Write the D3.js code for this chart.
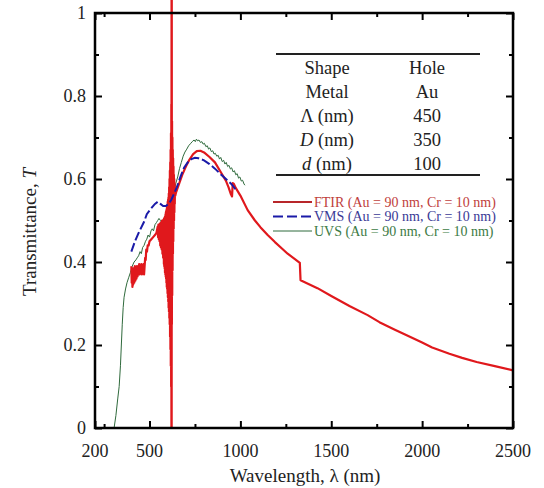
<!DOCTYPE html>
<html>
<head>
<meta charset="utf-8">
<script src="https://cdn.jsdelivr.net/npm/d3@7"></script>
<style>
  body { margin: 0; background: #fff; }
  svg text { font-family: "Liberation Serif", "Times New Roman", serif; }
</style>
</head>
<body>
<div id="chart"></div>
<script>
// FTIR spectrum [wavelength nm, T]
const ftir = [
  [400,0.39],[402,0.35],[404,0.385],[406,0.34],[408,0.38],[410,0.345],[413,0.385],[416,0.35],
  [419,0.39],[422,0.355],[425,0.385],[428,0.36],[431,0.39],[434,0.365],[437,0.39],[440,0.37],
  [443,0.395],[446,0.37],[449,0.39],[452,0.375],[455,0.395],[458,0.37],[461,0.39],[464,0.375],
  [467,0.395],[470,0.37],[473,0.39],[476,0.41],[479,0.405],[482,0.43],[486,0.425],[490,0.44],
  [495,0.44],[500,0.45],[510,0.455],[520,0.46],[530,0.465],[538,0.47],
  [545,0.485],[547,0.46],[549,0.49],[551,0.455],[553,0.49],[555,0.45],[557,0.492],[559,0.44],
  [561,0.495],[563,0.435],[565,0.495],[567,0.43],[569,0.5],[571,0.42],[573,0.5],[575,0.41],
  [577,0.502],[579,0.395],
  [580,0.505],[581,0.39],[582,0.505],[583,0.385],[584,0.508],[585,0.375],[586,0.51],[587,0.37],
  [588,0.515],[589,0.365],[590,0.52],[591,0.36],[592,0.523],[593,0.35],[594,0.527],[595,0.34],
  [596,0.532],[597,0.335],[598,0.537],[599,0.325],[600,0.545],[601,0.315],[602,0.55],[603,0.305],
  [604,0.555],[605,0.29],[606,0.565],[607,0.28],[608,0.58],[609,0.265],[610,0.6],[611,0.25],
  [612,0.62],[613,0.22],[614,0.64],[615,0.19],[616,0.67],[617,0.15],[618,0.71],[619,0.1],
  [620,0.78],[620.6,0],[621.2,1.04],[621.8,0],[622.4,1.04],[623,0.25],[624,0.74],[625,0.32],
  [626,0.7],[627,0.38],[628,0.67],[629,0.42],[630,0.65],[631,0.45],[632,0.63],[633,0.48],
  [634,0.61],[635,0.5],[636,0.6],[637,0.52],[638,0.59],[639,0.54],[640,0.58],[642,0.56],
  [646,0.568],[660,0.585],[680,0.61],[700,0.63],[720,0.647],[740,0.66],[760,0.667],[780,0.668],
  [800,0.664],[830,0.653],[860,0.64],[890,0.618],[920,0.596],[935,0.58],[948,0.563],[954,0.558],
  [958,0.59],[964,0.588],[975,0.578],[1000,0.56],[1040,0.525],[1080,0.5],[1110,0.484],
  [1150,0.465],[1190,0.448],[1230,0.432],[1260,0.42],[1300,0.407],[1327,0.398],[1331,0.356],
  [1360,0.35],[1424,0.337],[1500,0.318],[1600,0.294],[1700,0.272],[1765,0.255],[1850,0.237],
  [1912,0.224],[2000,0.206],[2055,0.194],[2150,0.179],[2220,0.169],[2300,0.159],[2400,0.149],
  [2500,0.139]
];

// VMS spectrum
const vms = [
  [400,0.425],[420,0.45],[440,0.47],[470,0.497],[485,0.515],[510,0.53],[530,0.54],[545,0.545],
  [560,0.54],[575,0.535],[590,0.535],[605,0.54],[620,0.55],[635,0.565],[650,0.58],[670,0.605],
  [690,0.627],[710,0.64],[730,0.648],[750,0.651],[770,0.65],[800,0.645],[830,0.636],[860,0.625],
  [890,0.612],[910,0.604],[930,0.596],[950,0.588],[965,0.58],[975,0.574]
];

// UVS spectrum
const uvs = [
  [305,0],[315,0.03],[325,0.07],[333,0.1],[340,0.15],[345,0.2],[350,0.25],[355,0.29],[360,0.315],
  [368,0.335],[376,0.35],[385,0.362],[395,0.375],[405,0.39],[415,0.4],[425,0.405],[432,0.41],
  [440,0.415],[448,0.425],[455,0.42],[462,0.435],[470,0.44],[478,0.45],[485,0.455],[492,0.465],
  [500,0.46],[508,0.475],[515,0.48],[522,0.475],[530,0.49],[538,0.495],[545,0.5],[552,0.505],
  [560,0.5],[568,0.495],[575,0.5],[585,0.505],[595,0.51],[605,0.52],[615,0.535],[625,0.55],
  [635,0.57],[645,0.59],[655,0.605],[665,0.625],[675,0.64],[685,0.655],[695,0.665],[705,0.672],
  [715,0.68],[725,0.685],[735,0.69],[745,0.694],[752,0.69],[758,0.696],[765,0.692],[772,0.694],
  [780,0.688],[788,0.69],[795,0.684],[802,0.686],[810,0.678],[818,0.68],[825,0.672],[832,0.675],
  [840,0.666],[848,0.668],[855,0.66],[862,0.662],[870,0.655],[878,0.657],[885,0.648],[892,0.652],
  [900,0.642],[908,0.645],[915,0.636],[922,0.64],[930,0.63],[937,0.633],[945,0.624],[952,0.627],
  [960,0.617],[967,0.62],[975,0.61],[982,0.613],[990,0.602],[997,0.605],[1005,0.595],[1012,0.597],
  [1020,0.588],[1025,0.585]
];

const xTicks = [200, 500, 1000, 1500, 2000, 2500];
const xMinor = [250, 750, 1250, 1750, 2250];
const yTicks = [0, 0.2, 0.4, 0.6, 0.8, 1];
const yMinor = [0.1, 0.3, 0.5, 0.7, 0.9];

const tableRows = [
  ['Shape', 'Hole'],
  ['Metal', 'Au'],
  ['Λ', '450'],
  ['D', '350'],
  ['d', '100']
];

const legendItems = [
  { label: 'FTIR (Au = 90 nm, Cr = 10 nm)', line: '#b8262a', text: '#c0403c', dash: null, w: 2.2 },
  { label: 'VMS (Au = 90 nm, Cr = 10 nm)', line: '#1a1aa8', text: '#3a3a96', dash: '10,4', w: 2.2 },
  { label: 'UVS (Au = 90 nm, Cr = 10 nm)', line: '#2f6a3c', text: '#3c7a44', dash: null, w: 1 }
];

const W = 544, H = 488;
const serif = '"Liberation Serif", "Times New Roman", serif';
const svg = d3.select('#chart').append('svg')
  .attr('width', W)
  .attr('height', H)
  .attr('font-family', serif);

const x = d3.scaleLinear().domain([200, 2500]).range([95, 513]);
const y = d3.scaleLinear().domain([0, 1]).range([428, 13]);

const line = d3.line().x(d => x(d[0])).y(d => y(d[1]));

// curves
svg.append('path').datum(uvs)
  .attr('d', line).attr('fill', 'none')
  .attr('stroke', '#2f6a3c').attr('stroke-width', 1);
svg.append('path').datum(ftir)
  .attr('d', line).attr('fill', 'none')
  .attr('stroke', '#e0181c').attr('stroke-width', 2.2)
  .attr('stroke-linejoin', 'round');
svg.append('path').datum(vms)
  .attr('d', line).attr('fill', 'none')
  .attr('stroke', '#1a1aa8').attr('stroke-width', 2)
  .attr('stroke-dasharray', '9,3');

// axes (ticks pointing inward on all four sides)
function ticks(axis, vals, size, tr) {
  svg.append('g').attr('transform', tr)
    .call(axis.tickValues(vals).tickSize(size).tickFormat(''))
    .call(g => g.select('.domain').remove())
    .call(g => g.selectAll('line').attr('stroke', '#000').attr('stroke-width', 2));
}
ticks(d3.axisBottom(x), xTicks, -7, 'translate(0,428)');
ticks(d3.axisBottom(x), xMinor, -4, 'translate(0,428)');
ticks(d3.axisTop(x), xTicks, -7, 'translate(0,13)');
ticks(d3.axisTop(x), xMinor, -4, 'translate(0,13)');
ticks(d3.axisLeft(y), yTicks, -7, 'translate(95,0)');
ticks(d3.axisLeft(y), yMinor, -4, 'translate(95,0)');
ticks(d3.axisRight(y), yTicks, -7, 'translate(513,0)');
ticks(d3.axisRight(y), yMinor, -4, 'translate(513,0)');

svg.append('rect')
  .attr('x', 95).attr('y', 13)
  .attr('width', 513 - 95).attr('height', 428 - 13)
  .attr('fill', 'none').attr('stroke', '#000').attr('stroke-width', 2.5);

// tick labels
svg.append('g').selectAll('text').data(xTicks).join('text')
  .attr('x', d => x(d)).attr('y', 457)
  .attr('text-anchor', 'middle')
  .attr('font-size', 18).attr('fill', '#222')
  .text(d => d);
svg.append('g').selectAll('text').data(yTicks).join('text')
  .attr('x', 86).attr('y', d => y(d) + 6)
  .attr('text-anchor', 'end')
  .attr('font-size', 18).attr('fill', '#222')
  .text(d => d);

// axis titles
svg.append('text')
  .attr('x', 305).attr('y', 482)
  .attr('text-anchor', 'middle').attr('font-size', 19).attr('fill', '#222')
  .text('Wavelength, λ (nm)');
const yt = svg.append('text')
  .attr('transform', 'translate(36,232) rotate(-90)')
  .attr('text-anchor', 'middle').attr('font-size', 19).attr('fill', '#222');
yt.append('tspan').text('Transmittance, ');
yt.append('tspan').attr('font-style', 'italic').text('T');

// parameter table
svg.append('line').attr('x1', 276).attr('x2', 480).attr('y1', 54).attr('y2', 54)
  .attr('stroke', '#222').attr('stroke-width', 2);
svg.append('line').attr('x1', 276).attr('x2', 480).attr('y1', 175).attr('y2', 175)
  .attr('stroke', '#222').attr('stroke-width', 2);
tableRows.forEach((r, i) => {
  const by = 74 + i * 24;
  const t = svg.append('text').attr('x', 327).attr('y', by)
    .attr('text-anchor', 'middle').attr('font-size', 18.5).attr('fill', '#222');
  if (i < 2) {
    t.text(r[0]);
  } else {
    t.append('tspan').attr('font-style', i > 2 ? 'italic' : 'normal').text(r[0]);
    t.append('tspan').text(i === 4 ? '  (nm)' : ' (nm)');
  }
  svg.append('text').attr('x', 427).attr('y', by)
    .attr('text-anchor', 'middle').attr('font-size', 18.5).attr('fill', '#222')
    .text(r[1]);
});

// legend
legendItems.forEach((d, i) => {
  const ly = 202 + i * 14.5;
  svg.append('line').attr('x1', 273).attr('x2', 312).attr('y1', ly).attr('y2', ly)
    .attr('stroke', d.line).attr('stroke-width', d.w)
    .attr('stroke-dasharray', d.dash);
  svg.append('text').attr('x', 314).attr('y', ly + 4.5)
    .attr('font-size', 14).attr('fill', d.text)
    .text(d.label);
});
</script>
</body>
</html>
